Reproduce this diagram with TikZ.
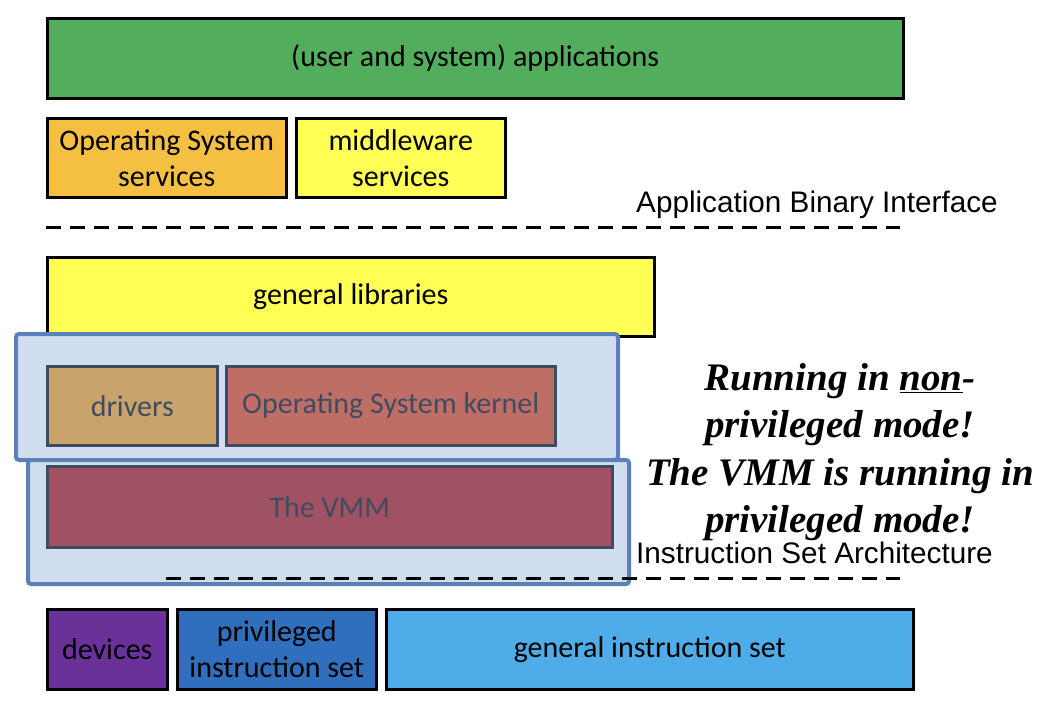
\documentclass[tikz,border=0pt]{standalone}
\usepackage{fontspec}
\setmainfont{Carlito}
\newfontfamily\arialfont{Liberation Sans}
\newfontfamily\timesfont{Liberation Serif}
\definecolor{appgreen}{RGB}{82,174,92}
\definecolor{svcorange}{RGB}{245,191,66}
\definecolor{libyellow}{RGB}{255,255,85}
\definecolor{ovfill}{RGB}{209,222,240}
\definecolor{ovline}{RGB}{91,128,186}
\definecolor{innerline}{RGB}{62,76,98}
\definecolor{drvtan}{RGB}{200,164,108}
\definecolor{kernred}{RGB}{191,110,102}
\definecolor{vmmred}{RGB}{160,82,98}
\definecolor{devpurple}{RGB}{106,50,153}
\definecolor{privblue}{RGB}{47,111,189}
\definecolor{genblue}{RGB}{78,173,233}
\begin{document}
\begin{tikzpicture}[x=1pt,y=-1pt,
    box/.style={draw=black, line width=2.5pt, anchor=north west, inner sep=0pt,
      align=center, font=\fontsize{30}{36}\selectfont},
    shaded/.style={box, draw=innerline, text=innerline},
    overlay/.style={draw=ovline, fill=ovfill, line width=4pt, rounded corners=3pt,
      anchor=north west, inner sep=0pt},
    dashline/.style={line width=3pt, dash pattern=on 15pt off 9pt},
    ifacelabel/.style={anchor=base west, inner sep=0pt, font=\arialfont\fontsize{29.7}{34}\selectfont}]
  \useasboundingbox (0,0) rectangle (1050,702);

  % user level
  \node[box, fill=appgreen, minimum width=856pt, minimum height=80pt] (apps) at (46,17) {(user and system) applications};
  \node[box, fill=svcorange, minimum width=239pt, minimum height=79pt] (ossvc) at (46,117) {Operating System\\services};
  \node[box, fill=libyellow, minimum width=209pt, minimum height=79pt] (mwsvc) at (295,117) {middleware\\services};

  % ABI
  \node[ifacelabel] (abi) at (636,212) {Application Binary Interface};
  \coordinate (abiL) at (46,227);
  \coordinate (abiR) at (900,227);
  \draw[dashline] (abiL) -- (abiR);

  \node[box, fill=libyellow, minimum width=607pt, minimum height=79pt] (genlib) at (46,256) {general libraries};

  % guest OS (non-privileged)
  \node[overlay, minimum width=602pt, minimum height=126pt] (guest) at (14,332) {};
  \node[shaded, fill=drvtan, minimum width=170pt, minimum height=79pt] (drivers) at (46,365) {drivers};
  \node[shaded, fill=kernred, minimum width=329pt, minimum height=79pt] (kernel) at (225,365) {Operating System kernel};

  % VMM (privileged)
  \node[overlay, minimum width=601pt, minimum height=124pt] (host) at (26,458) {};
  \node[shaded, fill=vmmred, minimum width=565pt, minimum height=81pt] (vmm) at (46,465) {The VMM};

  % ISA
  \node[ifacelabel] (isa) at (636,563) {Instruction Set Architecture};
  \coordinate (isaL) at (166,578);
  \coordinate (isaR) at (900,578);
  \draw[dashline] (isaL) -- (isaR);

  % hardware
  \node[box, fill=devpurple, minimum width=120pt, minimum height=80pt] (devices) at (46,608) {devices};
  \node[box, fill=privblue, minimum width=199pt, minimum height=80pt] (privset) at (176,608) {privileged\\instruction set};
  \node[box, fill=genblue, minimum width=527pt, minimum height=80pt] (genset) at (385,608) {general instruction set};

  % remark
  \node[anchor=north, inner sep=0pt, align=center, font=\timesfont\bfseries\itshape\fontsize{39}{47.5}\selectfont] (remark) at (840,363)
    {Running in \underline{non}-\\privileged mode!\\The VMM is running in\\privileged mode!};
\end{tikzpicture}
\end{document}
